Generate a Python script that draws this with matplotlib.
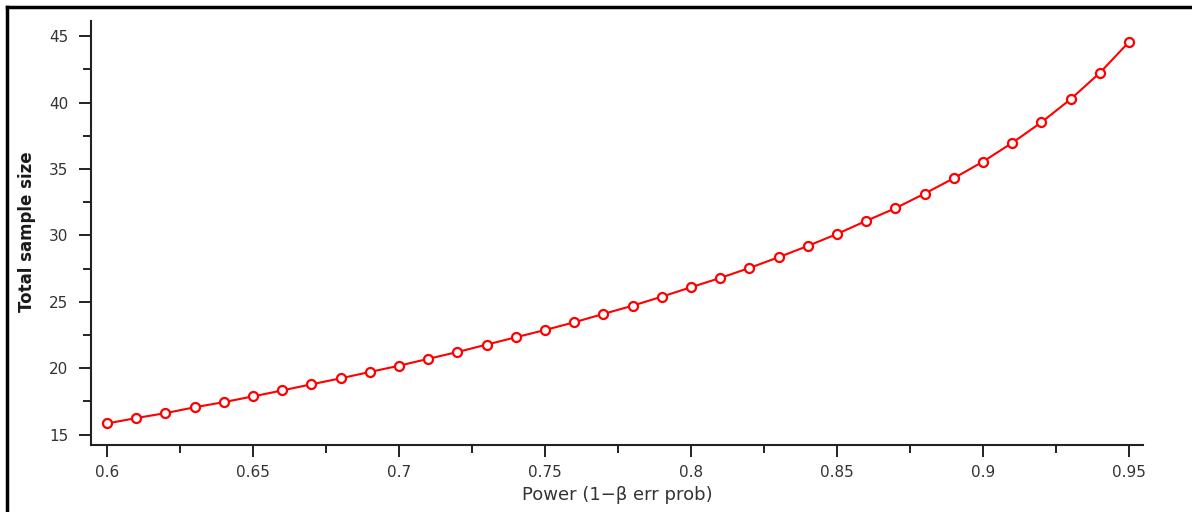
import matplotlib
matplotlib.use("Agg")
import matplotlib.pyplot as plt
from matplotlib.lines import Line2D
from matplotlib.ticker import MultipleLocator, FuncFormatter

# power values and total sample size
power = [0.60, 0.61, 0.62, 0.63, 0.64, 0.65, 0.66, 0.67, 0.68, 0.69,
         0.70, 0.71, 0.72, 0.73, 0.74, 0.75, 0.76, 0.77, 0.78, 0.79,
         0.80, 0.81, 0.82, 0.83, 0.84, 0.85, 0.86, 0.87, 0.88, 0.89,
         0.90, 0.91, 0.92, 0.93, 0.94, 0.95]
total_n = [15.84, 16.25, 16.62, 17.06, 17.45, 17.88, 18.33, 18.79, 19.24, 19.72,
           20.19, 20.71, 21.22, 21.78, 22.33, 22.88, 23.46, 24.09, 24.71, 25.39,
           26.10, 26.80, 27.55, 28.36, 29.21, 30.11, 31.10, 32.05, 33.15, 34.31,
           35.56, 36.97, 38.52, 40.26, 42.24, 44.57]

xlabel = "Power (1\u2212\u03b2 err prob)"
ylabel = "Total sample size"

W, H = 1192, 512
fig = plt.figure(figsize=(W / 100, H / 100), dpi=100)
ax = fig.add_axes([91 / W, 1 - 445 / H, (1143 - 91) / W, (445 - 21) / H])

ax.plot(power, total_n, color="#ff0000", lw=1.5, marker="o", ms=6.5,
        mfc="white", mec="#ff0000", mew=1.6, clip_on=False)

ax.set_xlim(0.5945, 0.9548)
ax.set_ylim(14.22, 46.15)

ax.spines["top"].set_visible(False)
ax.spines["right"].set_visible(False)
for s in ("left", "bottom"):
    ax.spines[s].set_linewidth(1.5)
    ax.spines[s].set_color("#222222")

ax.xaxis.set_major_locator(MultipleLocator(0.05))
ax.xaxis.set_minor_locator(MultipleLocator(0.025))
ax.yaxis.set_major_locator(MultipleLocator(5))
ax.yaxis.set_minor_locator(MultipleLocator(2.5))
ax.xaxis.set_major_formatter(FuncFormatter(lambda v, p: "%g" % round(v, 3)))
ax.yaxis.set_major_formatter(FuncFormatter(lambda v, p: "%g" % v))

ax.tick_params(which="major", direction="out", length=8.5, width=1.4,
               color="#222222", labelsize=11, labelcolor="#333333")
ax.tick_params(which="minor", direction="out", length=5.5, width=1.4,
               color="#222222")
ax.tick_params(axis="x", which="major", pad=6)
ax.tick_params(axis="y", which="major", pad=8)

fig.text(617 / W, 1 - 495 / H, xlabel, ha="center", va="center",
         fontsize=13, color="#333333")
fig.text(27 / W, 1 - 232 / H, ylabel, ha="center", va="center",
         rotation=90, fontsize=12, fontweight="bold", color="#1a1a1a")

# outer frame (left and top edges)
fig.add_artist(Line2D([7 / W, 7 / W], [0, 1 - 7 / H], transform=fig.transFigure,
                      color="black", lw=2.5))
fig.add_artist(Line2D([7 / W, 1], [1 - 7 / H, 1 - 7 / H], transform=fig.transFigure,
                      color="black", lw=2.5))

fig.savefig("out.png", dpi=100, facecolor="white")
